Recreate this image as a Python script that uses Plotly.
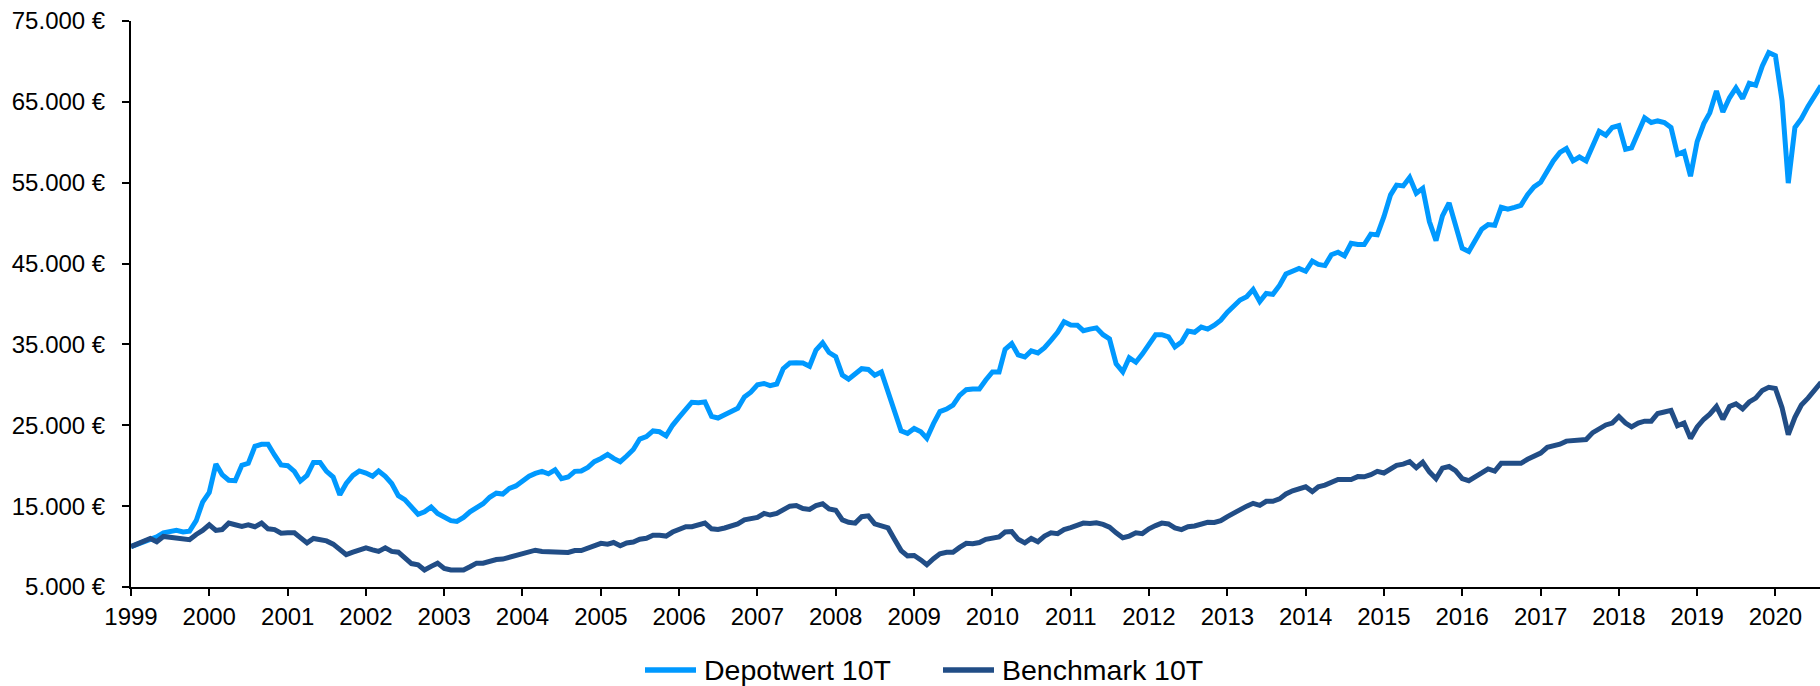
import pandas as pd
import plotly.graph_objects as go

# Monthly observation dates (Jan 1999 onward)
dates = pd.date_range("1999-01-01", periods=260, freq="MS")

depotwert = [
    10000, 10300, 10550, 10750, 11200, 11700, 11800, 12000, 11800, 11900, 13200, 15500,
    16700, 20200, 18900, 18200, 18150, 20050, 20300, 22400, 22650, 22650, 21300, 20100,
    20000, 19300, 18100, 18800, 20400, 20400, 19300, 18600, 16400, 17800, 18800, 19350,
    19100, 18700, 19350, 18700, 17800, 16300, 15800, 14900, 14000, 14300, 14900, 14100,
    13600, 13200, 13100, 13600, 14300, 14900, 15300, 16100, 16600, 16500, 17200, 17500,
    18100, 18700, 19050, 19300, 19000, 19500, 18400, 18600, 19300, 19340, 19800, 20500,
    20900, 21400, 20900, 20500, 21200, 22000, 23300, 23600, 24300, 24200, 23700, 25000,
    26000, 27000, 27850, 27800, 27900, 26100, 25900, 26300, 26700, 27100, 28500, 29100,
    30000, 30170, 29900, 30100, 32000, 32700, 32730, 32700, 32300, 34300, 35200, 34000,
    33500, 31200, 30700, 31300, 32000, 31900, 31200, 31600, 29000, 26500, 24300, 24000,
    24600, 24200, 23400, 25200, 26700, 27000, 27500, 28700, 29400, 29500, 29500, 30600,
    31600, 31600, 34400, 35100, 33700, 33450, 34200, 33950, 34600, 35500, 36500, 37800,
    37400, 37380, 36700, 36900, 37050, 36200, 35700, 32600, 31600, 33350, 32800, 33800,
    35000, 36200, 36200, 35950, 34700, 35300, 36650, 36500, 37150, 36900, 37380, 38000,
    39000, 39800, 40500, 40900, 41800, 40300, 41300, 41200, 42300, 43700, 44100, 44400,
    44050, 45300, 44900, 44750, 46100, 46400, 45950, 47500, 47350, 47350, 48650, 48550,
    50800, 53500, 54700, 54600, 55650, 53700, 54300, 50200, 47830, 50900, 52500, 49700,
    46900, 46500, 47800, 49250, 49820, 49730, 51960, 51720, 51950, 52200, 53530, 54480,
    55050, 56610, 57700, 58750, 59220, 57700, 58180, 57700, 59460, 61360, 60880, 61830,
    62070, 59130, 59320, 61360, 63020, 62450, 62640, 62450, 61830, 58510, 58840, 55810,
    60080, 62310, 63640, 66350, 63740, 65500, 66730, 65400, 67300, 67060, 69440, 71100,
    70720, 65160, 54950, 61830, 62920, 64440, 65640, 67000,
]

benchmark = [
    10000, 10300, 10600, 11000, 10600, 11250, 11150, 11050, 10900, 10850, 11500, 12000,
    12700, 12000, 12100, 12900, 12700, 12500, 12700, 12450, 12900, 12200, 12100, 11650,
    11700, 11700, 11100, 10450, 11000, 10900, 10700, 10300, 9600, 9000, 9300, 9650,
    9850, 9600, 9400, 9850, 9400, 9300, 8700, 7900, 7750, 7100, 7550, 7950,
    7300, 7100, 7100, 7100, 7500, 7950, 7950, 8200, 8400, 8450, 8650, 8900,
    9150, 9350, 9550, 9400, 9400, 9450, 9300, 9270, 9500, 9510, 9800, 10200,
    10400, 10300, 10500, 10100, 10450, 10560, 10900, 11030, 11400, 11400, 11300, 11800,
    12100, 12450, 12450, 12700, 12900, 12200, 12120, 12300, 12600, 12800, 13300, 13400,
    13600, 14100, 13900, 14100, 14550, 15000, 15070, 14700, 14600, 15070, 15300, 14650,
    14500, 13300, 13000, 12900, 13700, 13800, 12800, 12500, 12300, 10900, 9500, 8850,
    8900, 8350, 7750, 8500, 9100, 9300, 9300, 9900, 10400, 10350, 10500, 10900,
    11030, 11200, 11800, 11850, 10900, 10450, 11000, 10600, 11300, 11700, 11600, 12100,
    12350, 12700, 12900, 12850, 12930, 12750, 12400, 11700, 11100, 11300, 11700, 11600,
    12200, 12600, 12900, 12800, 12300, 12100, 12450, 12550, 12850, 13000, 12980, 13200,
    13700, 14200, 14500, 15000, 15350, 15100, 15600, 15600, 15900, 16500, 16900, 17100,
    17400, 16800, 17400, 17600, 18000, 18300, 18300, 18300, 18650, 18630, 18900, 19300,
    19100, 19600, 20050, 20200, 20500, 19750, 20430, 19240, 18400, 19700, 19900, 19400,
    18400, 18150, 18700, 19100, 19600, 19340, 20290, 20290, 20290, 20300, 20800, 21240,
    21570, 22280, 22450, 22660, 23040, 23100, 23140, 23230, 24090, 24560, 25040, 25280,
    26080, 25280, 24800, 25280, 25510, 25510, 26460, 26650, 26840, 24940, 25280, 23380,
    24800, 25750, 26370, 27320, 25750, 27320, 27650, 27030, 27890, 28360, 29310, 29690,
    29550, 27170, 23850, 25990, 27510, 28360, 29400, 30300,
]

year_ticks = [f"{y}-01-01" for y in range(1999, 2021)]
year_labels = [str(y) for y in range(1999, 2021)]
y_ticks = [5000, 15000, 25000, 35000, 45000, 55000, 65000, 75000]
y_labels = ["5.000 €", "15.000 €", "25.000 €", "35.000 €", "45.000 €",
            "55.000 €", "65.000 €", "75.000 €"]

series_names = ["Depotwert 10T", "Benchmark 10T"]
colors = ["#0099FF", "#214D86"]

# ---- layout geometry (pixels) ----
W, H = 1820, 686
ML, MR, MT, MB = 131, 0, 21, 99
PW, PH = W - ML - MR, H - MT - MB

def px_x(px):
    return (px - ML) / PW

def px_y(py):
    return (H - MB - py) / PH

fig = go.Figure()
for name, vals, col in zip(series_names, [depotwert, benchmark], colors):
    fig.add_trace(go.Scatter(
        x=dates, y=vals, mode="lines", name=name,
        line=dict(color=col, width=5),
        showlegend=False,
    ))

font_family = "Liberation Sans, Arial, sans-serif"

# custom legend below the plot (line sample + label)
legend_y = px_y(670)
legend_items = [(645, 696, 702), (943, 994, 1000)]
shapes, annotations = [], []
for (lx0, lx1, tx), name, col in zip(legend_items, series_names, colors):
    shapes.append(dict(type="line", xref="paper", yref="paper",
                       x0=px_x(lx0), x1=px_x(lx1), y0=legend_y, y1=legend_y,
                       line=dict(color=col, width=5.5)))
    annotations.append(dict(xref="paper", yref="paper", x=px_x(tx), y=legend_y,
                            xanchor="left", yanchor="middle", showarrow=False,
                            text=name, font=dict(size=28.5, color="black")))

fig.update_layout(
    width=W, height=H,
    margin=dict(l=ML, r=MR, t=MT, b=MB),
    paper_bgcolor="white", plot_bgcolor="white",
    font=dict(family=font_family, size=24, color="black"),
    showlegend=False,
    shapes=shapes,
    annotations=annotations,
)

fig.update_xaxes(
    type="date",
    range=["1999-01-01", "2020-07-27"],
    tickvals=year_ticks, ticktext=year_labels,
    showgrid=False, zeroline=False,
    showline=True, linecolor="black", linewidth=2,
    ticks="outside", ticklen=7, tickwidth=2, tickcolor="black",
    tickfont=dict(size=24, color="black"),
)
fig.update_yaxes(
    range=[5000, 75000],
    tickvals=y_ticks, ticktext=y_labels,
    showgrid=False, zeroline=False,
    showline=True, linecolor="black", linewidth=2,
    ticks="outside", ticklen=7, tickwidth=2, tickcolor="black",
    tickfont=dict(size=24, color="black"),
    ticklabelstandoff=12,
)

fig.write_html(
    "out.html",
    config={"displayModeBar": False},
    post_script="document.body.style.margin='0';document.body.style.overflow='hidden';",
)
